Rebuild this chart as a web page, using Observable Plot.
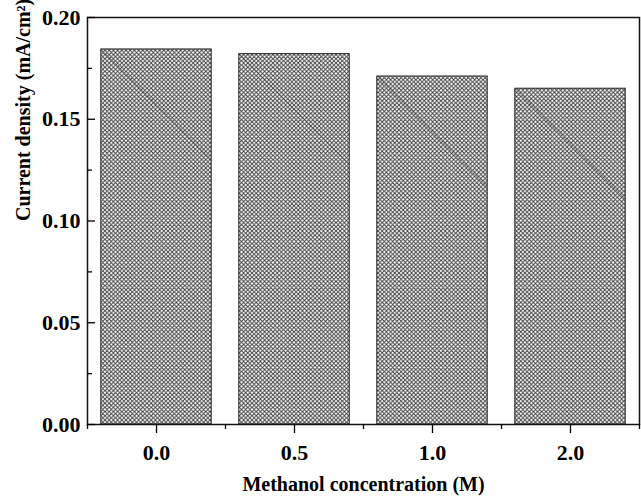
<!DOCTYPE html>
<html>
<head>
<meta charset="utf-8">
<script src="https://cdn.jsdelivr.net/npm/d3@7"></script>
<script src="https://cdn.jsdelivr.net/npm/@observablehq/plot@0.6"></script>
<style>
  body { margin: 0; background: #fff; }
  #chart { width: 641px; height: 496px; }
</style>
</head>
<body>
<div id="chart"></div>
<script>
const categories = ["0.0", "0.5", "1.0", "2.0"];
const values = [0.1843, 0.1820, 0.1710, 0.1650];
const yMajorTicks = [0, 0.05, 0.10, 0.15, 0.20];
const yMinorTicks = [0.025, 0.075, 0.125, 0.175];
const xLabel = "Methanol concentration (M)";
const yLabel = "Current density (mA/cm²)";

const data = categories.map((c, i) => ({i, c, v: values[i]}));
const idx = categories.map((c, i) => i);
const boundaries = [-0.5, 0.5, 1.5, 2.5, 3.5];
const half = 0.4;

const font = "'Liberation Serif', 'Times New Roman', serif";

const plot = Plot.plot({
  width: 641,
  height: 496,
  marginLeft: 87,
  marginRight: 2,
  marginTop: 17,
  marginBottom: 72,
  style: {fontFamily: font, fontWeight: "bold", fontSize: "22px", background: "#fff", color: "#000"},
  x: {domain: [-0.5, 3.5], axis: null},
  y: {domain: [0, 0.2], axis: null},
  marks: [
    Plot.rectY(data, {x1: d => d.i - half, x2: d => d.i + half, y: "v", fill: "url(#hatch)", stroke: "#222", strokeWidth: 1}),
    Plot.link(data, {x1: d => d.i - half, y1: "v", x2: d => d.i + half, y2: d => d.v - 0.0545, stroke: "#333", strokeWidth: 0.7, strokeOpacity: 0.8}),
    Plot.frame({stroke: "#111", strokeWidth: 1.5}),
    // y axis: inward ticks
    Plot.axisY(yMajorTicks, {anchor: "left", tickSize: -8, text: null, label: null, strokeWidth: 1.3}),
    Plot.axisY(yMinorTicks, {anchor: "left", tickSize: -5, text: null, label: null, strokeWidth: 1.3}),
    Plot.axisY(yMajorTicks, {anchor: "left", tickSize: 0, tickPadding: 7, tickFormat: d3.format(".2f"), label: null, fontSize: 22, fontWeight: "bold"}),
    // x axis: outward ticks
    Plot.axisX(idx, {anchor: "bottom", tickSize: 9, text: null, label: null, strokeWidth: 1.3}),
    Plot.axisX(boundaries, {anchor: "bottom", tickSize: 5, text: null, label: null, strokeWidth: 1.3}),
    Plot.axisX(idx, {anchor: "bottom", tickSize: 0, tickPadding: 20, tickFormat: i => categories[i], label: null, fontSize: 22, fontWeight: "bold"}),
    Plot.text([xLabel], {frameAnchor: "bottom", dy: 66, text: d => d, fontSize: 20, fontWeight: "bold", fill: "#000"}),
    Plot.text([yLabel], {frameAnchor: "left", dx: -64, rotate: -90, text: d => d, fontSize: 20, fontWeight: "bold", fill: "#000"})
  ]
});

// hatch pattern definition
const svg = d3.select(plot);
const defs = svg.insert("defs", ":first-child");
const pat = defs.append("pattern")
  .attr("id", "hatch")
  .attr("patternUnits", "userSpaceOnUse")
  .attr("width", 4.2)
  .attr("height", 4.2);
pat.append("rect").attr("width", 4.2).attr("height", 4.2).attr("fill", "#fff");
pat.append("path")
  .attr("d", "M0,0L4.2,4.2M4.2,0L0,4.2")
  .attr("stroke", "#3a3a3a")
  .attr("stroke-width", 0.9)
  .attr("fill", "none");

document.getElementById("chart").appendChild(plot);
</script>
</body>
</html>
